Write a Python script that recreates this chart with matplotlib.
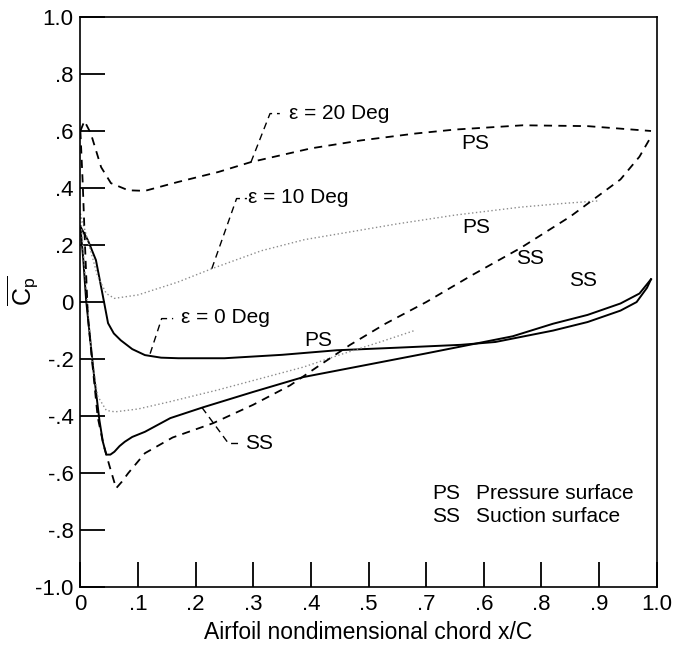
import numpy as np
import matplotlib
matplotlib.use('Agg')
import matplotlib.pyplot as plt

plt.rcParams['font.family'] = ['Liberation Sans', 'DejaVu Sans']
plt.rcParams['mathtext.fontset'] = 'custom'
plt.rcParams['mathtext.rm'] = 'Liberation Sans'
plt.rcParams['mathtext.it'] = 'Liberation Sans'

# epsilon = 0 deg, solid
x_ps0 = [0.0, 0.013, 0.027, 0.036, 0.042, 0.048, 0.058, 0.07, 0.09, 0.112, 0.14, 0.17,
         0.25, 0.35, 0.445, 0.55, 0.66, 0.72, 0.82, 0.88, 0.937, 0.965, 0.983, 0.99]
y_ps0 = [0.265, 0.217, 0.147, 0.053, -0.01, -0.074, -0.11, -0.134, -0.165, -0.186, -0.195, -0.197,
         -0.197, -0.185, -0.169, -0.16, -0.15, -0.14, -0.10, -0.07, -0.03, 0.0, 0.05, 0.08]
x_ss0 = [0.0, 0.005, 0.01, 0.016, 0.022, 0.028, 0.033, 0.039, 0.045, 0.052, 0.059, 0.068, 0.077,
         0.09, 0.112, 0.156, 0.213, 0.3, 0.387, 0.5, 0.6, 0.675, 0.75, 0.82, 0.88, 0.937, 0.97, 0.99]
y_ss0 = [0.265, 0.15, 0.006, -0.11, -0.228, -0.33, -0.414, -0.49, -0.535, -0.535, -0.525, -0.505, -0.49,
         -0.473, -0.455, -0.407, -0.369, -0.315, -0.263, -0.219, -0.18, -0.15, -0.12, -0.076, -0.045,
         -0.005, 0.03, 0.08]

# epsilon = 10 deg, dotted
x_ps10 = [0.0, 0.015, 0.03, 0.045, 0.059, 0.1, 0.169, 0.228, 0.314, 0.389, 0.465, 0.549,
          0.65, 0.764, 0.838, 0.9]
y_ps10 = [0.31, 0.2, 0.09, 0.03, 0.013, 0.025, 0.07, 0.117, 0.18, 0.219, 0.245, 0.274,
          0.305, 0.333, 0.346, 0.355]
x_ss10 = [0.0, 0.01, 0.02, 0.03, 0.045, 0.06, 0.1, 0.152, 0.237, 0.3, 0.387, 0.45, 0.52, 0.581]
y_ss10 = [0.31, 0.05, -0.2, -0.33, -0.38, -0.385, -0.375, -0.351, -0.309, -0.275, -0.228,
          -0.185, -0.14, -0.099]

# epsilon = 20 deg, dashed
x_ps20 = [0.0, 0.007, 0.018, 0.036, 0.053, 0.083, 0.112, 0.169, 0.239, 0.296, 0.4, 0.487,
          0.581, 0.65, 0.768, 0.88, 0.99]
y_ps20 = [0.6, 0.635, 0.592, 0.473, 0.417, 0.392, 0.39, 0.421, 0.456, 0.491, 0.539, 0.567,
          0.591, 0.605, 0.62, 0.617, 0.60]
x_ss20 = [0.0, 0.004, 0.008, 0.013, 0.02, 0.03, 0.04, 0.051, 0.062, 0.072, 0.083, 0.112, 0.16,
          0.23, 0.3, 0.364, 0.42, 0.468, 0.53, 0.6, 0.68, 0.764, 0.85, 0.937, 0.97, 0.99]
y_ss20 = [0.6, 0.42, 0.2, -0.052, -0.2, -0.403, -0.5, -0.578, -0.653, -0.63, -0.6, -0.53, -0.475,
          -0.425, -0.36, -0.292, -0.215, -0.15, -0.075, 0.0, 0.095, 0.19, 0.3, 0.43, 0.51, 0.58]

x_ticks = [0, .1, .2, .3, .4, .5, .6, .7, .8, .9, 1.0]
x_ticklabels = ['0', '.1', '.2', '.3', '.4', '.5', '.7', '.6', '.8', '.9', '1.0']
y_ticks = [-1.0, -.8, -.6, -.4, -.2, 0, .2, .4, .6, .8, 1.0]
y_ticklabels = ['-1.0', '-.8', '-.6', '-.4', '-.2', '0', '.2', '.4', '.6', '.8', '1.0']

fig = plt.figure(figsize=(6.87, 6.51), dpi=100)
ax = fig.add_axes([0.117, 0.098, 0.839, 0.876])

ax.plot(x_ps0, y_ps0, color='black', lw=1.4)
ax.plot(x_ss0, y_ss0, color='black', lw=1.4)
ax.plot(x_ps10, y_ps10, color='0.55', lw=1.0, linestyle=(0, (1, 1.8)))
ax.plot(x_ss10, y_ss10, color='0.55', lw=1.0, linestyle=(0, (1, 1.8)))
ax.plot(x_ps20, y_ps20, color='black', lw=1.3, linestyle=(0, (4.5, 3.5)))
ax.plot(x_ss20, y_ss20, color='black', lw=1.3, linestyle=(0, (4.5, 3.5)))

# leader lines to labels
lead = dict(color='black', lw=1.0, linestyle=(0, (5, 3.5)))
ax.plot([0.296, 0.329, 0.346], [0.491, 0.661, 0.661], **lead)
ax.plot([0.228, 0.271, 0.289], [0.117, 0.363, 0.363], **lead)
ax.plot([0.121, 0.141, 0.161], [-0.181, -0.058, -0.058], **lead)
ax.plot([0.211, 0.257, 0.274], [-0.37, -0.496, -0.496], **lead)

fs = 15
ax.text(0.362, 0.661, 'ε = 20 Deg', fontsize=fs, va='center')
ax.text(0.291, 0.366, 'ε = 10 Deg', fontsize=fs, va='center')
ax.text(0.174, -0.055, 'ε = 0 Deg', fontsize=fs, va='center')
ax.text(0.286, -0.496, 'SS', fontsize=fs, va='center')
ax.text(0.412, -0.134, 'PS', fontsize=fs, va='center', ha='center')
ax.text(0.685, 0.557, 'PS', fontsize=fs, va='center', ha='center')
ax.text(0.687, 0.263, 'PS', fontsize=fs, va='center', ha='center')
ax.text(0.781, 0.153, 'SS', fontsize=fs, va='center', ha='center')
ax.text(0.872, 0.076, 'SS', fontsize=fs, va='center', ha='center')
ax.text(0.61, -0.672, 'PS', fontsize=fs, va='center')
ax.text(0.686, -0.672, 'Pressure surface', fontsize=fs, va='center')
ax.text(0.61, -0.752, 'SS', fontsize=fs, va='center')
ax.text(0.686, -0.752, 'Suction surface', fontsize=fs, va='center')

ax.set_xlim(0, 1.0)
ax.set_ylim(-1.0, 1.0)
ax.set_xticks(x_ticks)
ax.set_xticklabels(x_ticklabels)
ax.set_yticks(y_ticks)
ax.set_yticklabels(y_ticklabels)
ax.tick_params(direction='in', length=18, width=1.3, labelsize=16, pad=5)
for s in ax.spines.values():
    s.set_linewidth(1.2)

ax.set_xlabel('Airfoil nondimensional chord x/C', fontsize=16.5, labelpad=4)
ax.set_ylabel(r'$\overline{C_p}$', fontsize=18, va='center')
ax.yaxis.set_label_coords(-0.1, 0.52)

fig.savefig('out.png', dpi=100)
